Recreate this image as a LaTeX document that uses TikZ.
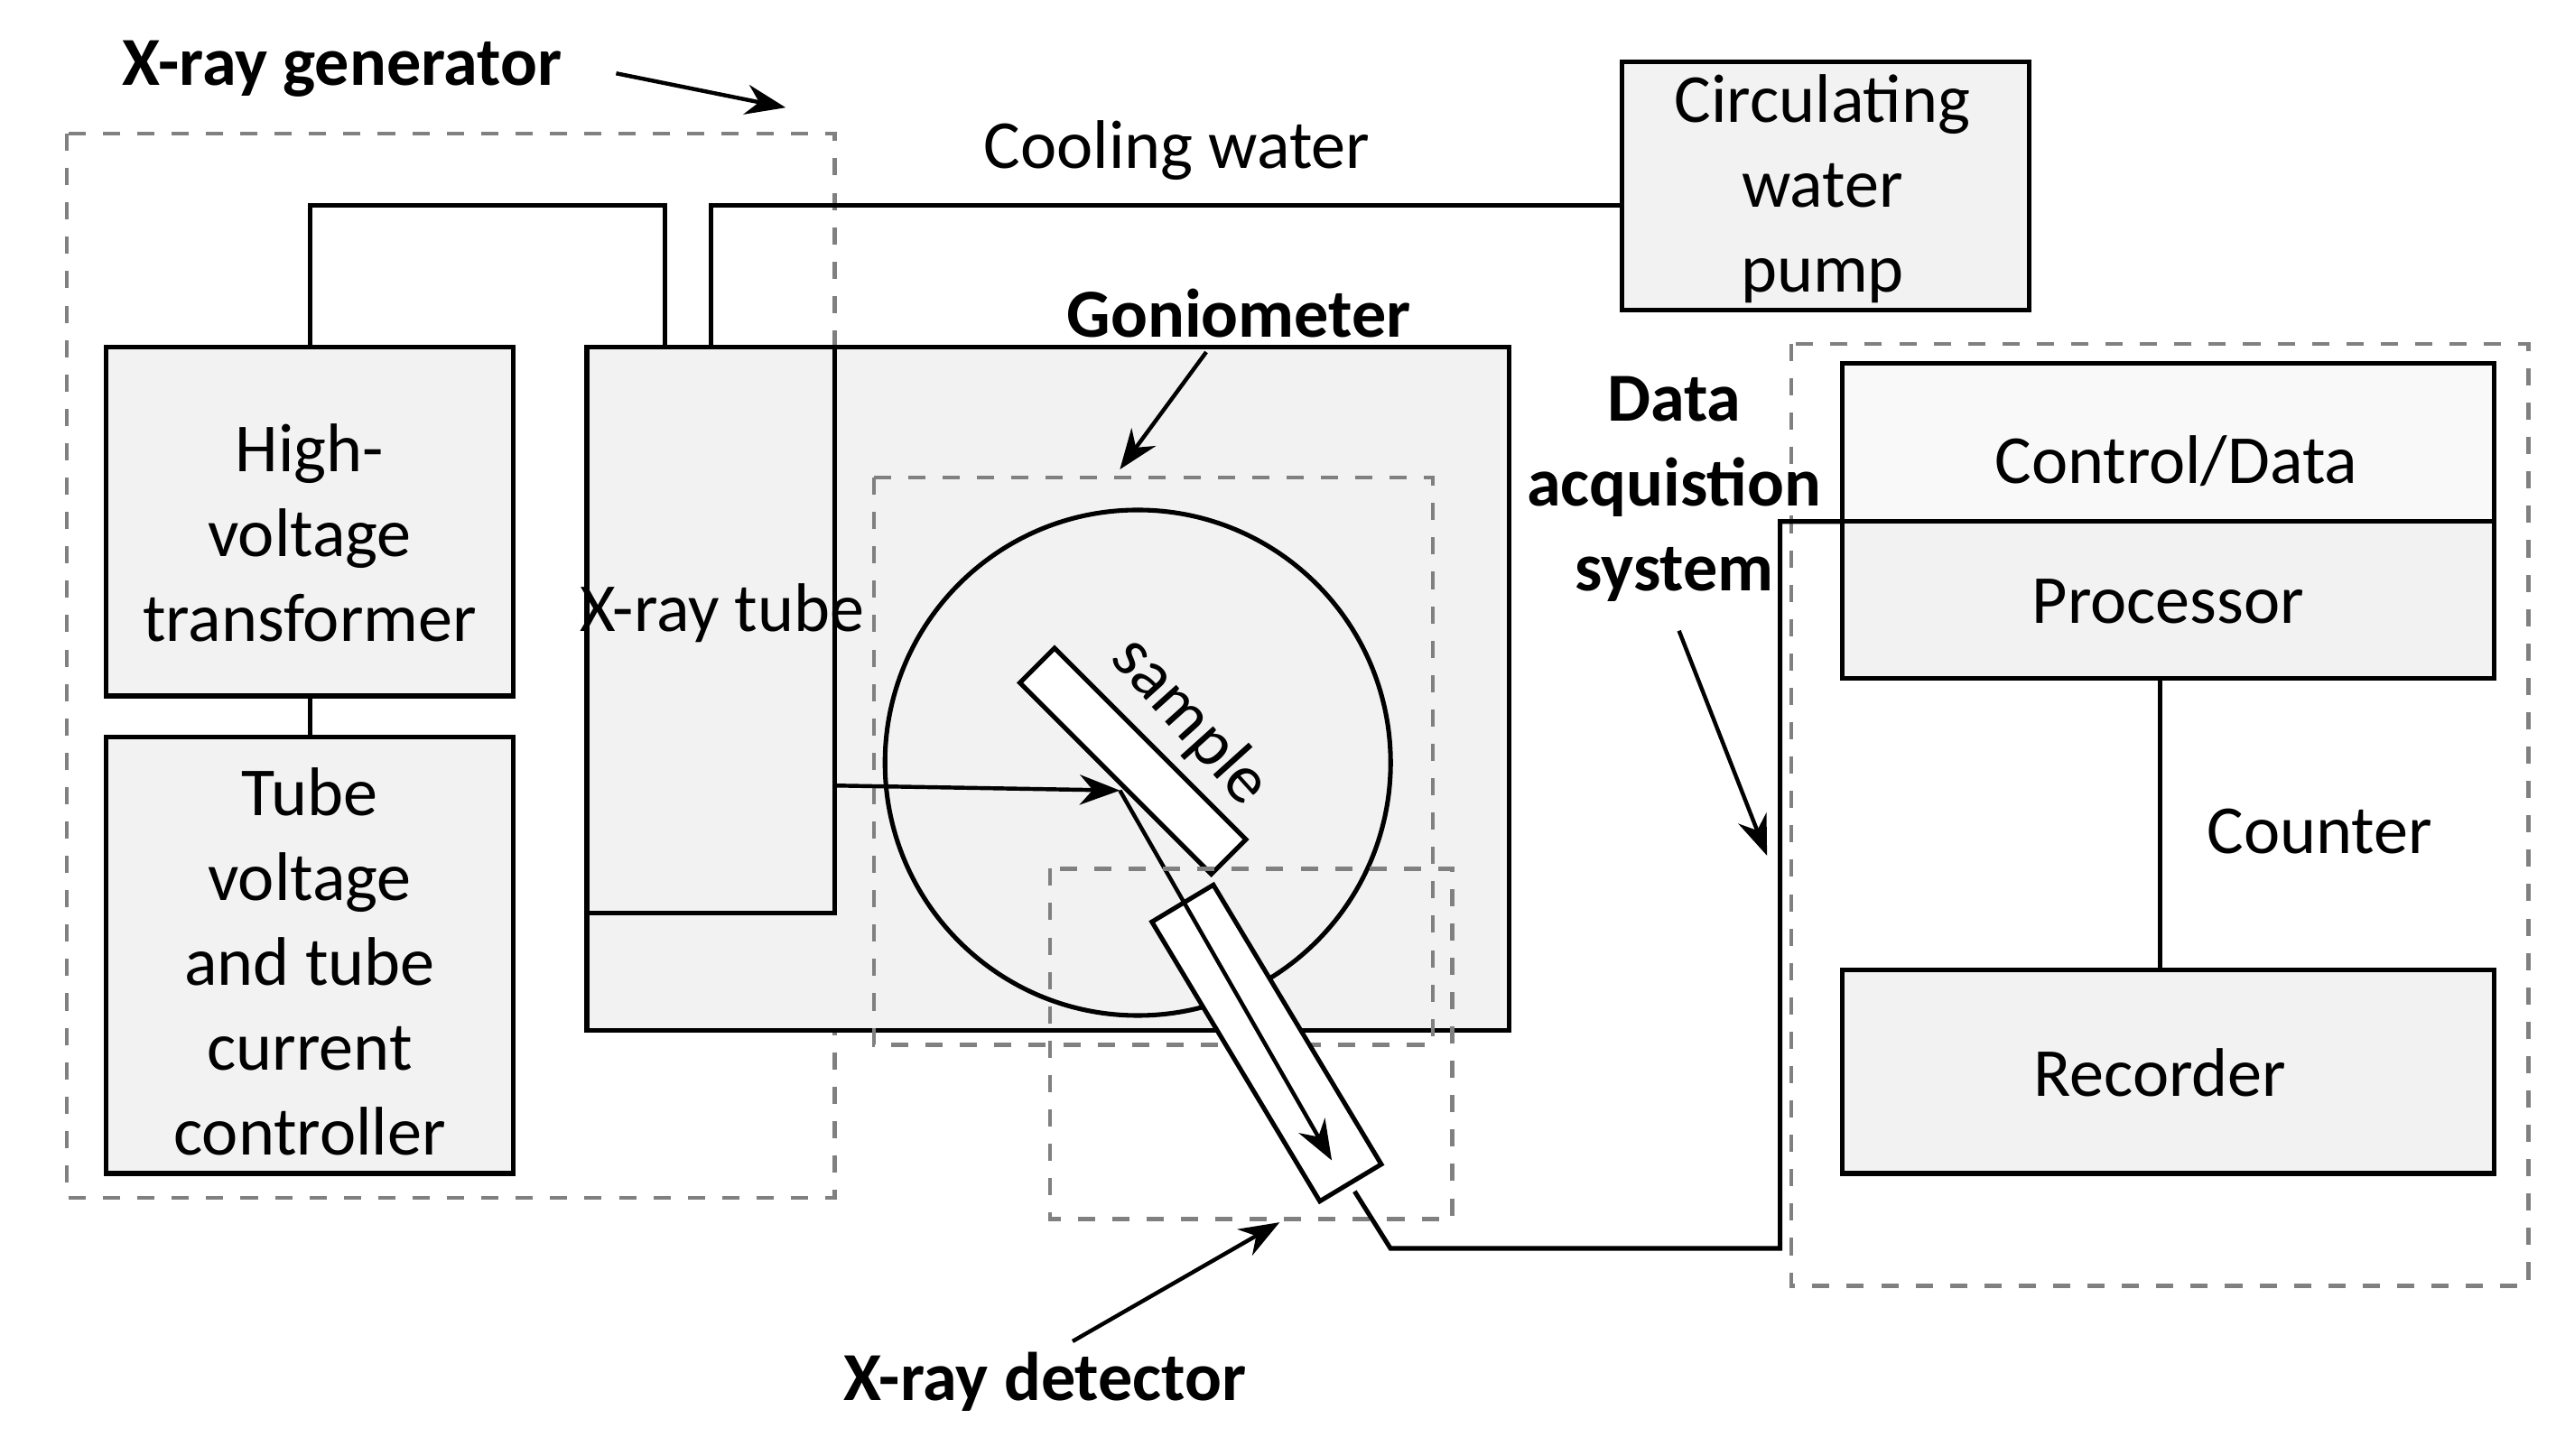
\documentclass[tikz,border=0pt]{standalone}
\usepackage{fontspec}
\setmainfont{Carlito}
\usetikzlibrary{arrows.meta}
\begin{document}
\begin{tikzpicture}[x=0.01cm,y=-0.01cm,
  box/.style={draw,fill=gray!10,line width=0.8pt},
  dbox/.style={draw=gray,dashed,line width=0.7pt},
  lbl/.style={font=\fontsize{12}{14.8}\selectfont,align=center},
  blbl/.style={font=\fontsize{12}{14.8}\selectfont\bfseries,align=center},
  arr/.style={-{Stealth[length=7pt]},line width=0.7pt},
  ln/.style={line width=0.8pt}]
\useasboundingbox (0,0) rectangle (1568,893);
% generator
\node[blbl] (lgen) at (210,42) {X-ray generator};
\draw[dbox] (41,82) rectangle (512,735);
\coordinate (ga) at (378,45); \coordinate (gb) at (482,66);
\draw[arr] (ga) -- (gb);
\draw[box] (65,213) rectangle (315,427);
\node[lbl] (hvt) at (190,327) {High-\\voltage\\transformer};
\draw[box] (65,452) rectangle (315,720);
\node[lbl] (tc) at (190,590) {Tube\\voltage\\and tube\\current\\controller};
\coordinate (hvb) at (190,427); \coordinate (tct) at (190,452);
\draw[ln] (hvb) -- (tct);
% pump
\draw[box] (995,38) rectangle (1245,190);
\node[lbl] (pump) at (1118,116) {Circulating\\water\\pump};
\node[lbl] (cw) at (722,92) {Cooling water};
% goniometer body
\draw[box] (360,213) rectangle (926,632);
\draw[ln] (360,560) -- (512,560) -- (512,213);
\node[lbl,inner sep=0] (tube) at (443,376) {X-ray tube};
\coordinate (p1) at (190,213); \coordinate (p2) at (408,213);
\coordinate (p3) at (436,213); \coordinate (p4) at (995,126);
\draw[ln] (p1) -- (190,126) -- (408,126) -- (p2);
\draw[ln] (p3) -- (436,126) -- (p4);
\node[blbl] (lgon) at (760,192) {Goniometer};
\draw[dbox] (536,293) rectangle (879,641);
\draw[arr] (740,216) -- (687,288);
\node[circle,draw,ln,minimum size=3.1cm,inner sep=0] (circ) at (698,468) {};
\begin{scope}[shift={(695,467)},rotate=-45]
  \draw[ln,fill=white] (-83,-15) rectangle (83,15);
\end{scope}
\node[lbl,rotate=-48] (samp) at (730,443) {sample};
\coordinate (beam0) at (512,482); \coordinate (beam1) at (687,485);
\draw[arr] (beam0) -- (beam1);
\begin{scope}[shift={(777,640)},rotate=-59]
  \draw[ln,fill=white] (-100,-22) rectangle (100,22);
\end{scope}
\coordinate (d1) at (817,712);
\draw[arr] (beam1) -- (d1);
\draw[dbox] (644,533) rectangle (891,748);
\node[blbl] (ldet) at (641,848) {X-ray detector};
\draw[arr] (658,823) -- (785,750);
% data acquisition
\draw[dbox] (1099,211) rectangle (1551,789);
\draw[box,fill=gray!5] (1130,223) rectangle (1530,320);
\draw[box] (1130,320) rectangle (1530,416);
\node[lbl] (cd) at (1335,283) {Control/Data};
\node[lbl] (proc) at (1330,369) {Processor};
\draw[box] (1130,595) rectangle (1530,720);
\node[lbl] (rec) at (1325,658) {Recorder};
\coordinate (pb) at (1325,416); \coordinate (rt) at (1325,595);
\draw[ln] (pb) -- (rt);
\node[lbl] (cnt) at (1423,510) {Counter};
\coordinate (dout) at (831,731); \coordinate (pin) at (1130,320);
\draw[ln] (dout) -- (853,766) -- (1092,766) -- (1092,320) -- (pin);
\node[blbl] (ldaq) at (1027,300) {Data\\acquistion\\system};
\draw[arr] (1030,387) -- (1084,525);
\end{tikzpicture}
\end{document}
